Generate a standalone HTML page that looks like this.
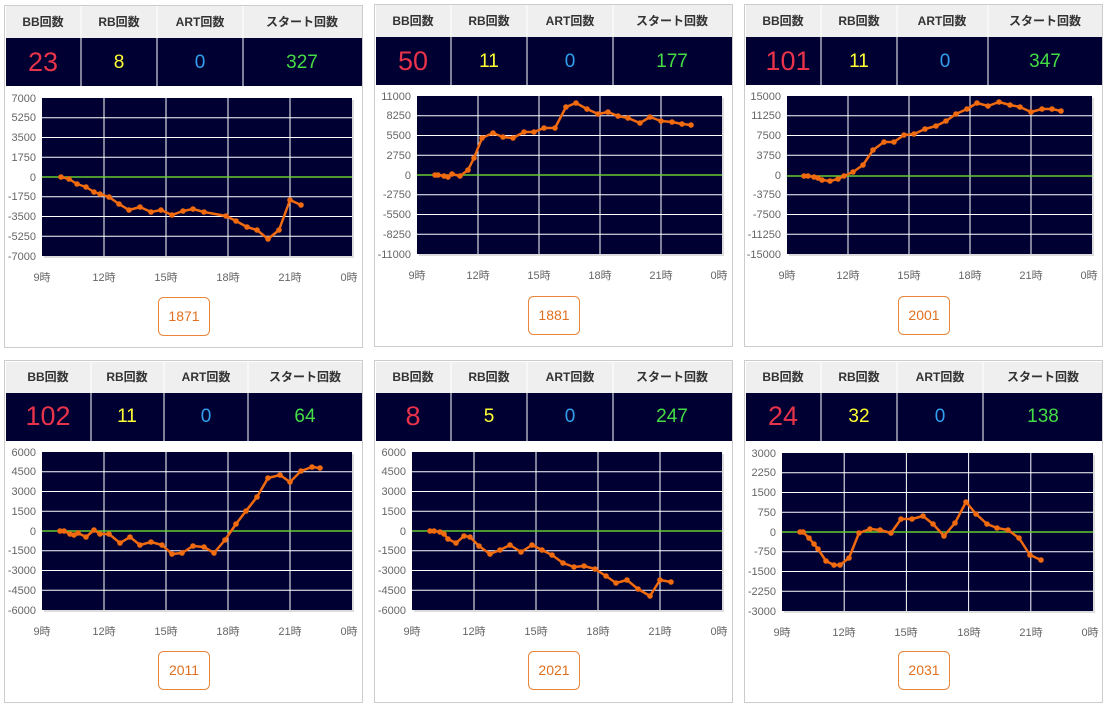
<!DOCTYPE html>
<html><head><meta charset="utf-8"><style>
html,body{margin:0;padding:0;background:#fff;}
svg{display:block;font-family:"Liberation Sans","Noto Sans CJK JP",sans-serif;}
.hd{font-size:12px;font-weight:bold;fill:#333;text-anchor:middle}
.yl{font-size:11px;fill:#666;text-anchor:end}
.xl{font-size:11px;fill:#666;text-anchor:middle}
.g{stroke:#fff;stroke-width:1;fill:none}
.z{stroke:#66cc33;stroke-width:1.5}
.ln{fill:none;stroke:#f06a10;stroke-width:2.5;stroke-linejoin:round;marker-start:url(#m);marker-mid:url(#m);marker-end:url(#m)}
.btn{fill:#fff;stroke:#e8863c;stroke-width:1}
.bt{font-size:14px;fill:#e07020;text-anchor:middle}
.r{fill:#e8334a;font-size:27px;text-anchor:middle}
.y{fill:#ffff33;font-size:19px;text-anchor:middle}
.b{fill:#33a0ee;font-size:19px;text-anchor:middle}
.gr{fill:#44dd44;font-size:19px;text-anchor:middle}
</style></head><body>
<svg width="1108" height="708" viewBox="0 0 1108 708">
<defs><marker id="m" markerUnits="userSpaceOnUse" markerWidth="8" markerHeight="8" refX="4" refY="4"><circle cx="4" cy="4" r="2.8" fill="#f06a10"/></marker></defs>
<!-- ===== Panel 1 ===== -->
<rect x="4.5" y="5.5" width="358" height="342" fill="#fff" stroke="#ccc"/>
<rect x="6" y="6" width="356" height="32" fill="#efefef"/>
<rect x="6" y="38" width="356" height="48" fill="#000033"/>
<path d="M81 6V86M157 6V86M243 6V86" stroke="#fff"/>
<text class="hd" x="43" y="26">BB回数</text><text class="hd" x="119" y="26">RB回数</text><text class="hd" x="200" y="26">ART回数</text><text class="hd" x="302" y="26">スタート回数</text>
<text class="r" x="43" y="71">23</text><text class="y" x="119" y="68">8</text><text class="b" x="200" y="68">0</text><text class="gr" x="302" y="68">327</text>
<rect x="44" y="100" width="310" height="158" fill="#ddd"/>
<rect x="42" y="98" width="310" height="158" fill="#000033"/>
<path class="g" d="M42 117.75H352M42 137.5H352M42 157.25H352M42 196.75H352M42 216.5H352M42 236.25H352M104 98V256M166 98V256M228 98V256M290 98V256"/>
<line class="z" x1="42" y1="177" x2="352" y2="177"/>
<g class="yl"><text x="36" y="102">7000</text><text x="36" y="121">5250</text><text x="36" y="141">3500</text><text x="36" y="161">1750</text><text x="36" y="181">0</text><text x="36" y="200">-1750</text><text x="36" y="220">-3500</text><text x="36" y="240">-5250</text><text x="36" y="260">-7000</text></g>
<g class="xl"><text x="42" y="281">9時</text><text x="104" y="281">12時</text><text x="166" y="281">15時</text><text x="228" y="281">18時</text><text x="290" y="281">21時</text><text x="349" y="281">0時</text></g>
<polyline class="ln" points="61,177 69,179 77,184 86,187 94,192 100,194 109,197 119,204 129,210 140,207 151,212 161,210 172,215 183,211 193,209 204,212 226,216 236,221 247,227 257,230 268,239 279,230 290,200 301,205"/>
<rect class="btn" x="158.5" y="297.5" width="51" height="38" rx="5"/><text class="bt" x="184" y="321">1871</text>

<!-- ===== Panel 2 ===== -->
<rect x="374.5" y="4.5" width="358" height="342" fill="#fff" stroke="#ccc"/>
<rect x="376" y="5" width="356" height="32" fill="#efefef"/>
<rect x="376" y="37" width="356" height="48" fill="#000033"/>
<path d="M451 5V85M527 5V85M613 5V85" stroke="#fff"/>
<text class="hd" x="413" y="25">BB回数</text><text class="hd" x="489" y="25">RB回数</text><text class="hd" x="570" y="25">ART回数</text><text class="hd" x="672" y="25">スタート回数</text>
<text class="r" x="413" y="70">50</text><text class="y" x="489" y="67">11</text><text class="b" x="570" y="67">0</text><text class="gr" x="672" y="67">177</text>
<rect x="419" y="98" width="305" height="158" fill="#ddd"/>
<rect x="417" y="96" width="305" height="158" fill="#000033"/>
<path class="g" d="M417 115.75H722M417 135.5H722M417 155.25H722M417 194.75H722M417 214.5H722M417 234.25H722M478 96V254M539 96V254M600 96V254M661 96V254"/>
<line class="z" x1="417" y1="175" x2="722" y2="175"/>
<g class="yl"><text x="411" y="100">11000</text><text x="411" y="119">8250</text><text x="411" y="139">5500</text><text x="411" y="159">2750</text><text x="411" y="179">0</text><text x="411" y="198">-2750</text><text x="411" y="218">-5500</text><text x="411" y="238">-8250</text><text x="411" y="258">-11000</text></g>
<g class="xl"><text x="417" y="279">9時</text><text x="478" y="279">12時</text><text x="539" y="279">15時</text><text x="600" y="279">18時</text><text x="661" y="279">21時</text><text x="719" y="279">0時</text></g>
<polyline class="ln" points="435,175 438,175 444,176 448,177 452,174 460,176 468,170 474,158 482,138 493,133 503,137 513,138 524,132 534,132 544,128 555,128 566,107 576,103 587,109 598,114 608,112 618,116 628,118 640,123 650,117 661,121 672,122 682,124 691,125"/>
<rect class="btn" x="528.5" y="296.5" width="51" height="38" rx="5"/><text class="bt" x="554" y="320">1881</text>

<!-- ===== Panel 3 ===== -->
<rect x="744.5" y="4.5" width="358" height="342" fill="#fff" stroke="#ccc"/>
<rect x="746" y="5" width="356" height="32" fill="#efefef"/>
<rect x="746" y="37" width="356" height="48" fill="#000033"/>
<path d="M821 5V85M897 5V85M988 5V85" stroke="#fff"/>
<text class="hd" x="783" y="25">BB回数</text><text class="hd" x="859" y="25">RB回数</text><text class="hd" x="942" y="25">ART回数</text><text class="hd" x="1045" y="25">スタート回数</text>
<text class="r" x="788" y="70">101</text><text class="y" x="859" y="67">11</text><text class="b" x="945" y="67">0</text><text class="gr" x="1045" y="67">347</text>
<rect x="789" y="98" width="305" height="158" fill="#ddd"/>
<rect x="787" y="96" width="305" height="158" fill="#000033"/>
<path class="g" d="M787 115.75H1092M787 135.5H1092M787 155.25H1092M787 194.75H1092M787 214.5H1092M787 234.25H1092M848 96V254M909 96V254M970 96V254M1031 96V254"/>
<line class="z" x1="787" y1="176" x2="1092" y2="176"/>
<g class="yl"><text x="781" y="100">15000</text><text x="781" y="119">11250</text><text x="781" y="139">7500</text><text x="781" y="159">3750</text><text x="781" y="179">0</text><text x="781" y="198">-3750</text><text x="781" y="218">-7500</text><text x="781" y="238">-11250</text><text x="781" y="258">-15000</text></g>
<g class="xl"><text x="787" y="279">9時</text><text x="848" y="279">12時</text><text x="909" y="279">15時</text><text x="970" y="279">18時</text><text x="1031" y="279">21時</text><text x="1089" y="279">0時</text></g>
<polyline class="ln" points="804,176 808,176 814,177 818,178 822,180 830,181 838,179 844,176 853,172 863,165 873,150 884,142 894,142 904,135 914,134 925,129 936,126 946,121 956,114 967,109 977,103 988,106 999,102 1010,105 1020,107 1031,112 1042,109 1052,109 1061,111"/>
<rect class="btn" x="898.5" y="296.5" width="51" height="38" rx="5"/><text class="bt" x="924" y="320">2001</text>

<!-- ===== Panel 4 ===== -->
<rect x="4.5" y="360.5" width="358" height="342" fill="#fff" stroke="#ccc"/>
<rect x="6" y="362" width="356" height="31" fill="#efefef"/>
<rect x="6" y="393" width="356" height="48" fill="#000033"/>
<path d="M91 362V441M164 362V441M248 362V441" stroke="#fff"/>
<text class="hd" x="48" y="381">BB回数</text><text class="hd" x="127" y="381">RB回数</text><text class="hd" x="206" y="381">ART回数</text><text class="hd" x="305" y="381">スタート回数</text>
<text class="r" x="48" y="425">102</text><text class="y" x="127" y="422">11</text><text class="b" x="206" y="422">0</text><text class="gr" x="305" y="422">64</text>
<rect x="44" y="454" width="310" height="158" fill="#ddd"/>
<rect x="42" y="452" width="310" height="158" fill="#000033"/>
<path class="g" d="M42 471.75H352M42 491.5H352M42 511.25H352M42 550.75H352M42 570.5H352M42 590.25H352M104 452V610M166 452V610M228 452V610M290 452V610"/>
<line class="z" x1="42" y1="531" x2="352" y2="531"/>
<g class="yl"><text x="36" y="456">6000</text><text x="36" y="475">4500</text><text x="36" y="495">3000</text><text x="36" y="515">1500</text><text x="36" y="535">0</text><text x="36" y="554">-1500</text><text x="36" y="574">-3000</text><text x="36" y="594">-4500</text><text x="36" y="614">-6000</text></g>
<g class="xl"><text x="42" y="635">9時</text><text x="104" y="635">12時</text><text x="166" y="635">15時</text><text x="228" y="635">18時</text><text x="290" y="635">21時</text><text x="349" y="635">0時</text></g>
<polyline class="ln" points="60,531 64,531 70,534 74,535 78,533 86,537 94,530 100,534 109,534 120,543 130,537 140,545 151,542 162,545 172,554 182,553 193,546 204,547 214,553 225,540 236,524 246,511 257,497 268,478 280,475 290,482 301,471 312,467 320,468"/>
<rect class="btn" x="158.5" y="651.5" width="51" height="38" rx="5"/><text class="bt" x="184" y="675">2011</text>

<!-- ===== Panel 5 ===== -->
<rect x="374.5" y="360.5" width="358" height="342" fill="#fff" stroke="#ccc"/>
<rect x="376" y="362" width="356" height="31" fill="#efefef"/>
<rect x="376" y="393" width="356" height="48" fill="#000033"/>
<path d="M451 362V441M527 362V441M613 362V441" stroke="#fff"/>
<text class="hd" x="413" y="381">BB回数</text><text class="hd" x="489" y="381">RB回数</text><text class="hd" x="570" y="381">ART回数</text><text class="hd" x="672" y="381">スタート回数</text>
<text class="r" x="413" y="425">8</text><text class="y" x="489" y="422">5</text><text class="b" x="570" y="422">0</text><text class="gr" x="672" y="422">247</text>
<rect x="414" y="454" width="310" height="158" fill="#ddd"/>
<rect x="412" y="452" width="310" height="158" fill="#000033"/>
<path class="g" d="M412 471.75H722M412 491.5H722M412 511.25H722M412 550.75H722M412 570.5H722M412 590.25H722M474 452V610M536 452V610M598 452V610M660 452V610"/>
<line class="z" x1="412" y1="531" x2="722" y2="531"/>
<g class="yl"><text x="406" y="456">6000</text><text x="406" y="475">4500</text><text x="406" y="495">3000</text><text x="406" y="515">1500</text><text x="406" y="535">0</text><text x="406" y="554">-1500</text><text x="406" y="574">-3000</text><text x="406" y="594">-4500</text><text x="406" y="614">-6000</text></g>
<g class="xl"><text x="412" y="635">9時</text><text x="474" y="635">12時</text><text x="536" y="635">15時</text><text x="598" y="635">18時</text><text x="660" y="635">21時</text><text x="719" y="635">0時</text></g>
<polyline class="ln" points="430,531 434,531 440,532 444,534 448,539 456,543 464,536 470,537 479,546 490,554 500,550 510,545 521,552 532,545 542,550 552,555 563,563 574,567 584,566 595,569 606,576 616,583 627,580 638,589 650,596 660,580 671,582"/>
<rect class="btn" x="528.5" y="651.5" width="51" height="38" rx="5"/><text class="bt" x="554" y="675">2021</text>

<!-- ===== Panel 6 ===== -->
<rect x="744.5" y="360.5" width="358" height="342" fill="#fff" stroke="#ccc"/>
<rect x="746" y="362" width="356" height="31" fill="#efefef"/>
<rect x="746" y="393" width="356" height="48" fill="#000033"/>
<path d="M821 362V441M897 362V441M983 362V441" stroke="#fff"/>
<text class="hd" x="783" y="381">BB回数</text><text class="hd" x="859" y="381">RB回数</text><text class="hd" x="940" y="381">ART回数</text><text class="hd" x="1043" y="381">スタート回数</text>
<text class="r" x="783" y="425">24</text><text class="y" x="859" y="422">32</text><text class="b" x="940" y="422">0</text><text class="gr" x="1043" y="422">138</text>
<rect x="784" y="455" width="311" height="158" fill="#ddd"/>
<rect x="782" y="453" width="311" height="158" fill="#000033"/>
<path class="g" d="M782 472.75H1093M782 492.5H1093M782 512.25H1093M782 551.75H1093M782 571.5H1093M782 591.25H1093M844.2 453V611M906.4 453V611M968.6 453V611M1030.8 453V611"/>
<line class="z" x1="782" y1="532" x2="1093" y2="532"/>
<g class="yl"><text x="776" y="457">3000</text><text x="776" y="476">2250</text><text x="776" y="496">1500</text><text x="776" y="516">750</text><text x="776" y="536">0</text><text x="776" y="555">-750</text><text x="776" y="575">-1500</text><text x="776" y="595">-2250</text><text x="776" y="615">-3000</text></g>
<g class="xl"><text x="782" y="636">9時</text><text x="844" y="636">12時</text><text x="906" y="636">15時</text><text x="969" y="636">18時</text><text x="1031" y="636">21時</text><text x="1090" y="636">0時</text></g>
<polyline class="ln" points="800,532 803,532 809,538 814,544 818,549 826,561 834,565 840,565 849,558 859,533 870,529 880,530 891,533 901,519 912,519 923,516 933,524 944,536 955,523 966,502 976,514 987,524 997,528 1008,530 1019,538 1030,555 1041,560"/>
<rect class="btn" x="898.5" y="651.5" width="51" height="38" rx="5"/><text class="bt" x="924" y="675">2031</text>
</svg>
</body></html>
